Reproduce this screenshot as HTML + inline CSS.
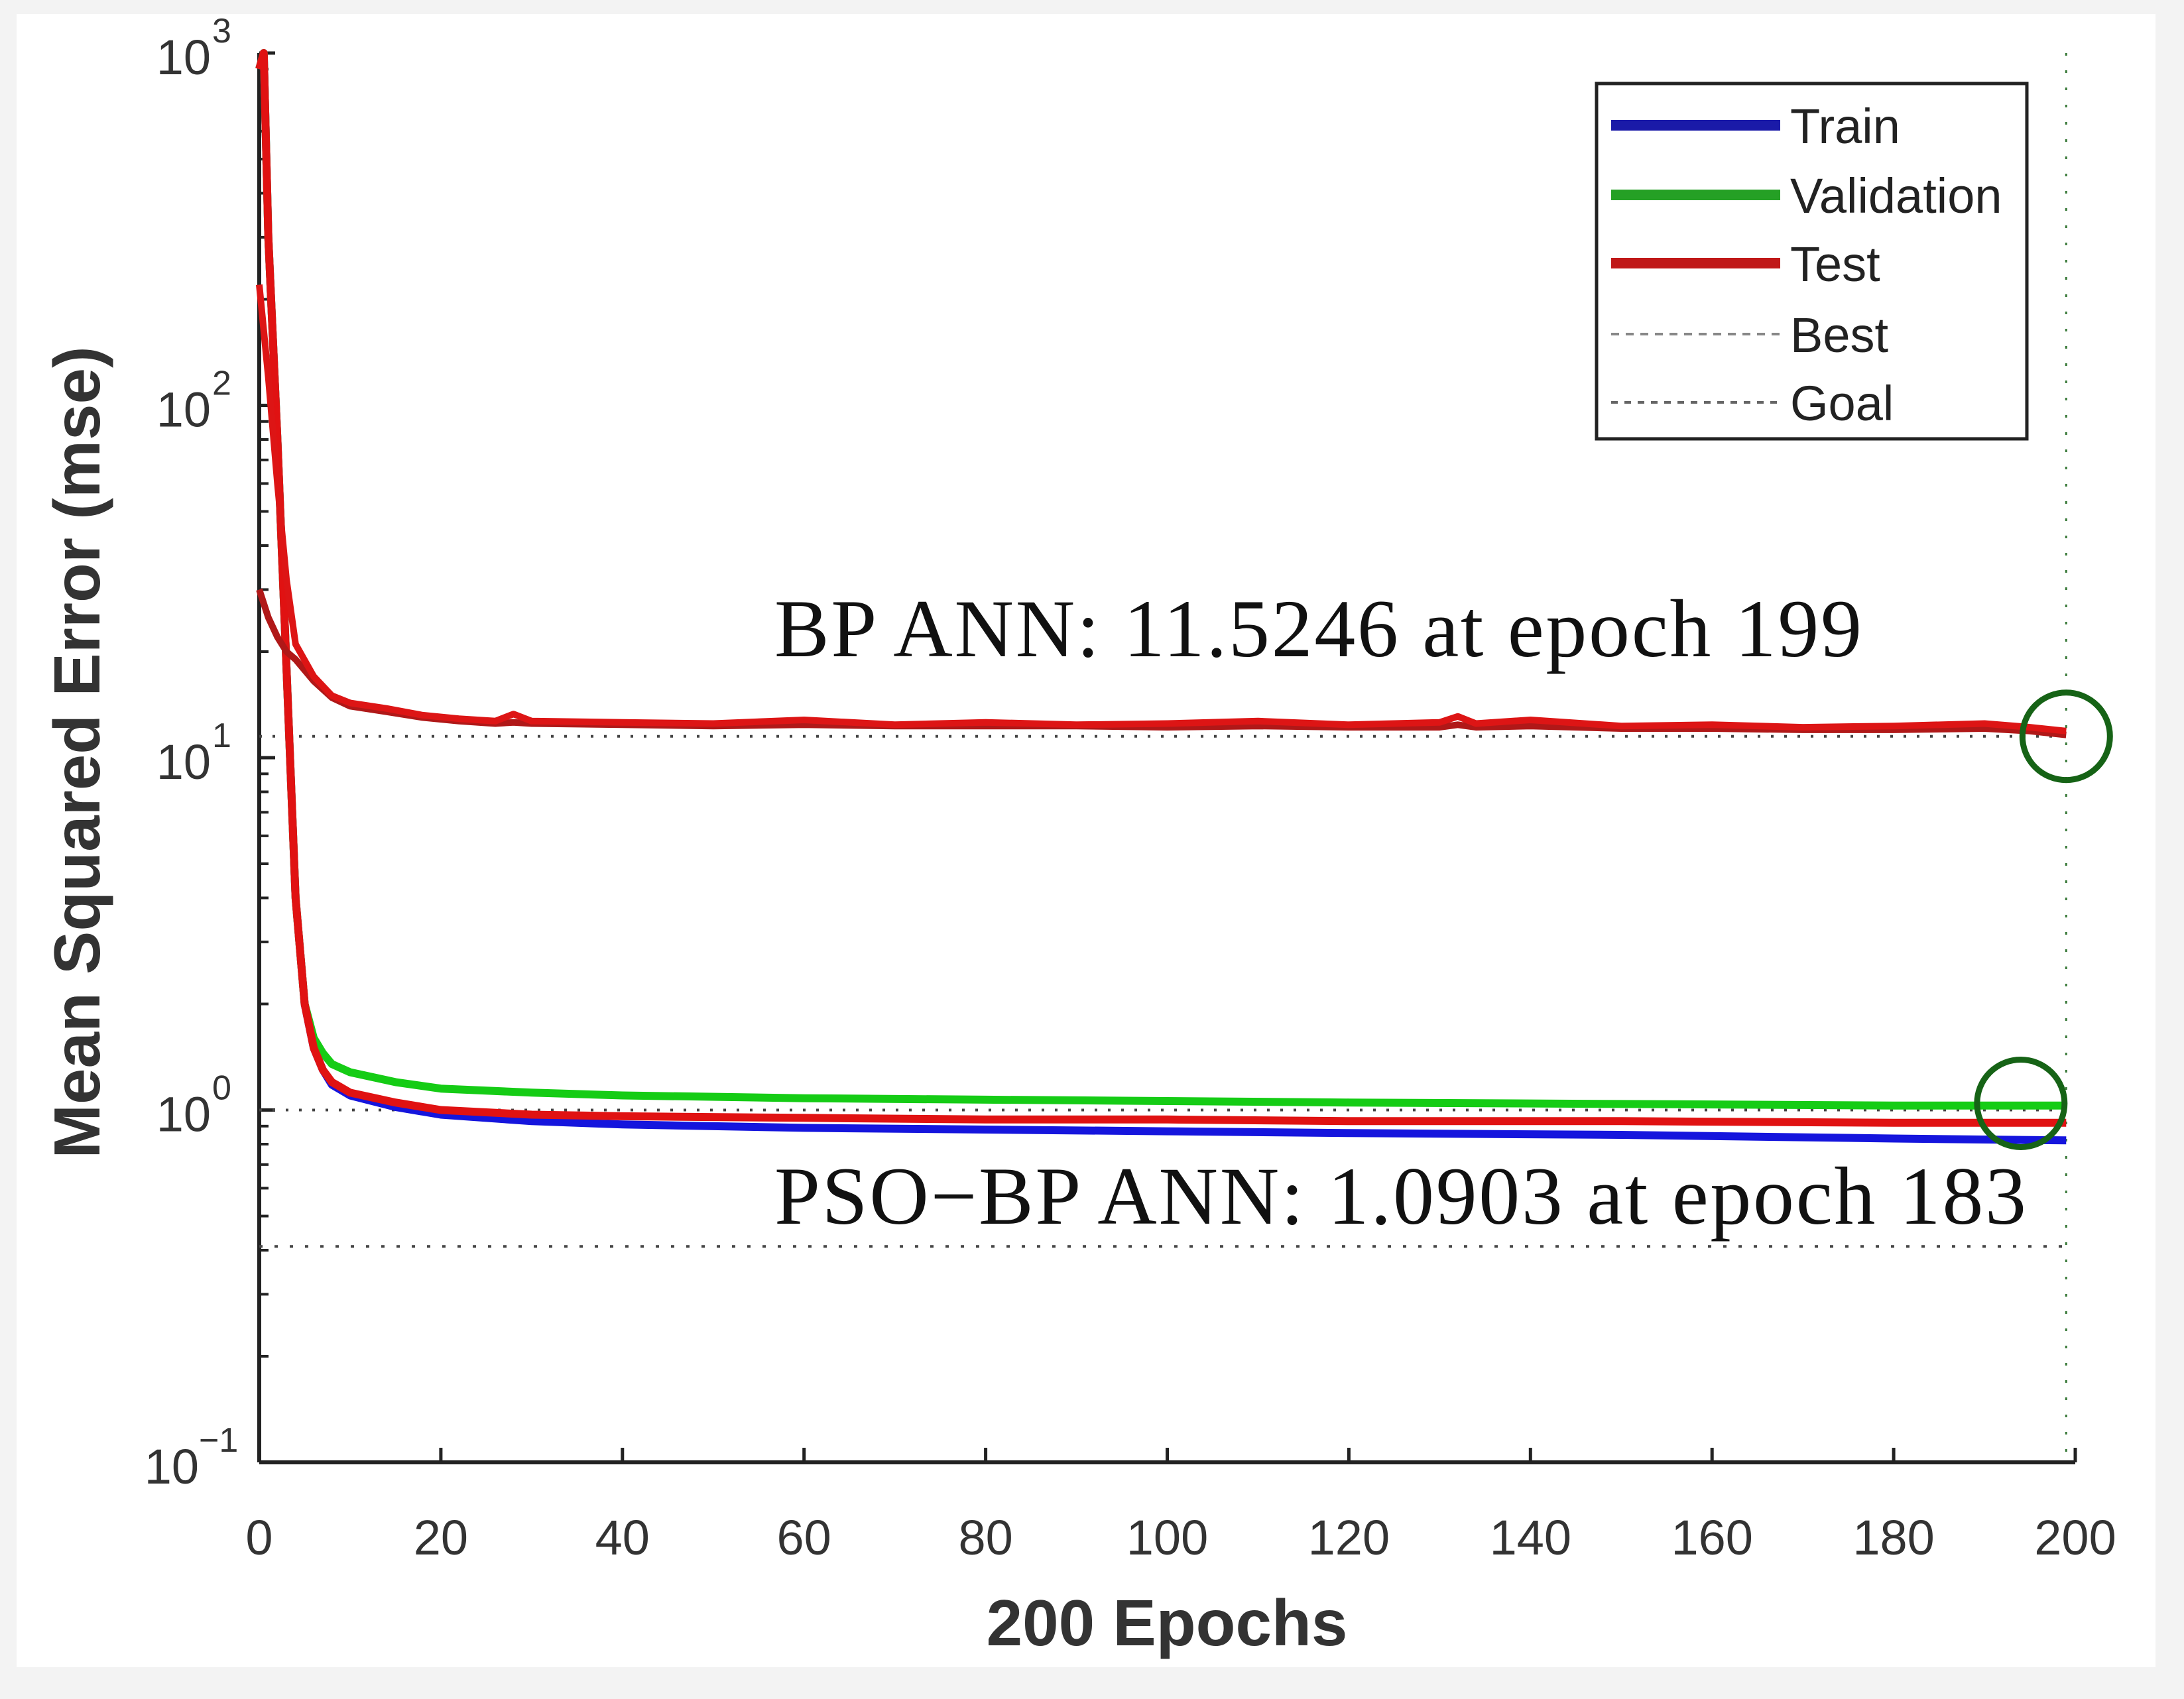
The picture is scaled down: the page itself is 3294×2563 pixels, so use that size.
<!DOCTYPE html>
<html><head><meta charset="utf-8"><style>
html,body{margin:0;padding:0;background:#f3f3f3;}
svg{display:block;}
</style></head><body>
<svg id="chart" width="3294" height="2563" xmlns="http://www.w3.org/2000/svg">
<rect x="0" y="0" width="3294" height="2563" fill="#f3f3f3"/>
<rect x="25" y="21" width="3226" height="2494" fill="#ffffff"/>
<g id="plot"></g>
</svg>
<script>
const xTicks=[0,20,40,60,80,100,120,140,160,180,200];
const yTickExps=[3,2,1,0,-1];
// BP ANN curves
const bpEpochs=[0,1,2,3,4,6,8,10,14,18,22,26,28,30,40,50,60,70,80,90,100,110,120,130,132,134,140,150,160,170,180,190,195,199];
const bpTest=[220,120,60,32,21,17,15,14.3,13.8,13.2,12.9,12.7,13.3,12.7,12.6,12.5,12.8,12.4,12.6,12.4,12.5,12.7,12.4,12.6,13.1,12.5,12.8,12.3,12.4,12.2,12.3,12.5,12.2,11.9];
const bpTrain=[30,25,22,20,19,16.5,14.8,14.0,13.5,13.0,12.7,12.5,12.6,12.5,12.4,12.3,12.4,12.3,12.3,12.3,12.2,12.3,12.2,12.2,12.4,12.2,12.3,12.1,12.1,12.0,12.0,12.1,11.9,11.6];
// PSO-BP ANN curves
const psoEpochs=[0,0.5,1,2,3,4,5,6,7,8,10,15,20,30,40,60,80,100,120,150,180,199];
const psoVal=[900,1000,300,80,18,4,2,1.6,1.45,1.35,1.28,1.2,1.15,1.12,1.1,1.08,1.07,1.06,1.05,1.04,1.03,1.03];
const psoTest=[900,1000,300,80,18,4,2,1.5,1.3,1.2,1.12,1.05,1.0,0.97,0.96,0.95,0.94,0.94,0.93,0.93,0.92,0.92];
const psoTrain=[900,1000,300,80,18,4,2,1.5,1.3,1.18,1.1,1.02,0.97,0.93,0.91,0.89,0.88,0.87,0.86,0.85,0.83,0.82];
const bestLines=[11.5,1.0];
const goalValue=0.41;
const bestEpoch=199;

const L=391,R=3130,T=80,B=2206;
const X=e=>L+(R-L)*e/200;
const Y=v=>B-(B-T)*(Math.log10(v)+1)/4;
const NS='http://www.w3.org/2000/svg';
const g=document.getElementById('plot');
function mk(tag,attrs,parent){const el=document.createElementNS(NS,tag);for(const k in attrs)el.setAttribute(k,attrs[k]);(parent||g).appendChild(el);return el;}

let el=mk('line',{x1:L,y1:B,x2:R,y2:B,stroke:'#222','stroke-width':6});


el=mk('line',{x1:L,y1:T,x2:L,y2:B,stroke:'#222','stroke-width':6});



xTicks.forEach(t=>{
  const x=X(t);
  let tk=mk('line',{x1:x,y1:B,x2:x,y2:B-22,stroke:'#222','stroke-width':5});
  
  
  let tx=mk('text',{x:x,y:2345,'text-anchor':'middle','font-family':'Liberation Sans, sans-serif','font-size':74,fill:'#333'});
  tx.textContent=t;
  
  
});
yTickExps.forEach(p=>{
  const y=Y(Math.pow(10,p));
  let tk=mk('line',{x1:L,y1:y,x2:L+24,y2:y,stroke:'#222','stroke-width':5});
  
  
  if(p<3){for(let m=2;m<=9;m++){const my=Y(m*Math.pow(10,p));
    let mt=mk('line',{x1:L,y1:my,x2:L+14,y2:my,stroke:'#222','stroke-width':4});
    
    }}
  let tx=mk('text',{x:p<0?300:318,y:y+32,'text-anchor':'end','font-family':'Liberation Sans, sans-serif','font-size':74,fill:'#333'});
  tx.textContent='10';
  
  
  let sp=mk('text',{x:p<0?300:320,y:y-16,'text-anchor':'start','font-family':'Liberation Sans, sans-serif','font-size':52,fill:'#333'});
  sp.textContent=p<0?'\u22121':String(p);
  
  
});

bestLines.forEach(v=>{
  let ln=mk('line',{x1:L,y1:Y(v),x2:X(bestEpoch),y2:Y(v),stroke:'#444','stroke-width':4,'stroke-dasharray':'4 16'});
  
  
});
el=mk('line',{x1:L,y1:Y(goalValue),x2:X(bestEpoch),y2:Y(goalValue),stroke:'#444','stroke-width':4,'stroke-dasharray':'5 18'});


el=mk('line',{x1:X(bestEpoch),y1:T,x2:X(bestEpoch),y2:B,stroke:'#3a7a3a','stroke-width':3,'stroke-dasharray':'4 22'});



function series(xs,ys,color,name,w){
  const pts=xs.map((e,i)=>X(e).toFixed(1)+','+Y(ys[i]).toFixed(1)).join(' ');
  const pl=mk('polyline',{points:pts,fill:'none',stroke:color,'stroke-width':w||12,'stroke-linejoin':'round'});
  
  
}
series(psoEpochs,psoTrain,'#1515dd','pso-train-line');
series(psoEpochs,psoVal,'#15cc15','pso-validation-line');
series(psoEpochs,psoTest,'#e01212','pso-test-line');
series(bpEpochs,bpTrain,'#b01818','bp-train-line',10);
series(bpEpochs,bpTest,'#dd1515','bp-test-line',10);

el=mk('circle',{cx:X(bestEpoch),cy:Y(11.5),r:66,fill:'none',stroke:'#166316','stroke-width':9});


el=mk('circle',{cx:X(194),cy:Y(1.0)-10,r:66,fill:'none',stroke:'#166316','stroke-width':9});



el=mk('text',{x:1168,y:990,'font-family':'Liberation Serif, serif','font-size':124,fill:'#111',textLength:1640});
el.textContent='BP ANN: 11.5246 at epoch 199';


el=mk('text',{x:1168,y:1846,'font-family':'Liberation Serif, serif','font-size':124,fill:'#111',textLength:1888});
el.textContent='PSO\u2212BP ANN: 1.0903 at epoch 183';



el=mk('text',{x:1760,y:2482,'text-anchor':'middle','font-family':'Liberation Sans, sans-serif','font-size':98,'font-weight':'bold',fill:'#333'});
el.textContent='200 Epochs';


el=mk('text',{x:0,y:0,'text-anchor':'middle','font-family':'Liberation Sans, sans-serif','font-size':98,'font-weight':'bold',fill:'#333',transform:'translate(150,1135) rotate(-90)'});
el.textContent='Mean Squared Error  (mse)';



const lg=mk('g',{});


el=mk('rect',{x:2408,y:126,width:649,height:536,fill:'#fff',stroke:'#222','stroke-width':5},lg);


const legLabels=['Train','Validation','Test','Best','Goal'];
const legColors=['#1a1aa8','#25a025','#c01818','#888','#666'];
const legY=[189,294,397,504,607];
legLabels.forEach((lab,i)=>{
  const dash=i===3?'12 10':(i===4?'10 10':null);
  const a={x1:2430,y1:legY[i],x2:2685,y2:legY[i],stroke:legColors[i],'stroke-width':i<3?16:4};
  if(dash)a['stroke-dasharray']=dash;
  let ln=mk('line',a,lg);
  
  
  let tx=mk('text',{x:2700,y:legY[i]+27,'font-family':'Liberation Sans, sans-serif','font-size':74,fill:'#222'},lg);
  tx.textContent=lab;
  
  
});
</script>
</body></html>
